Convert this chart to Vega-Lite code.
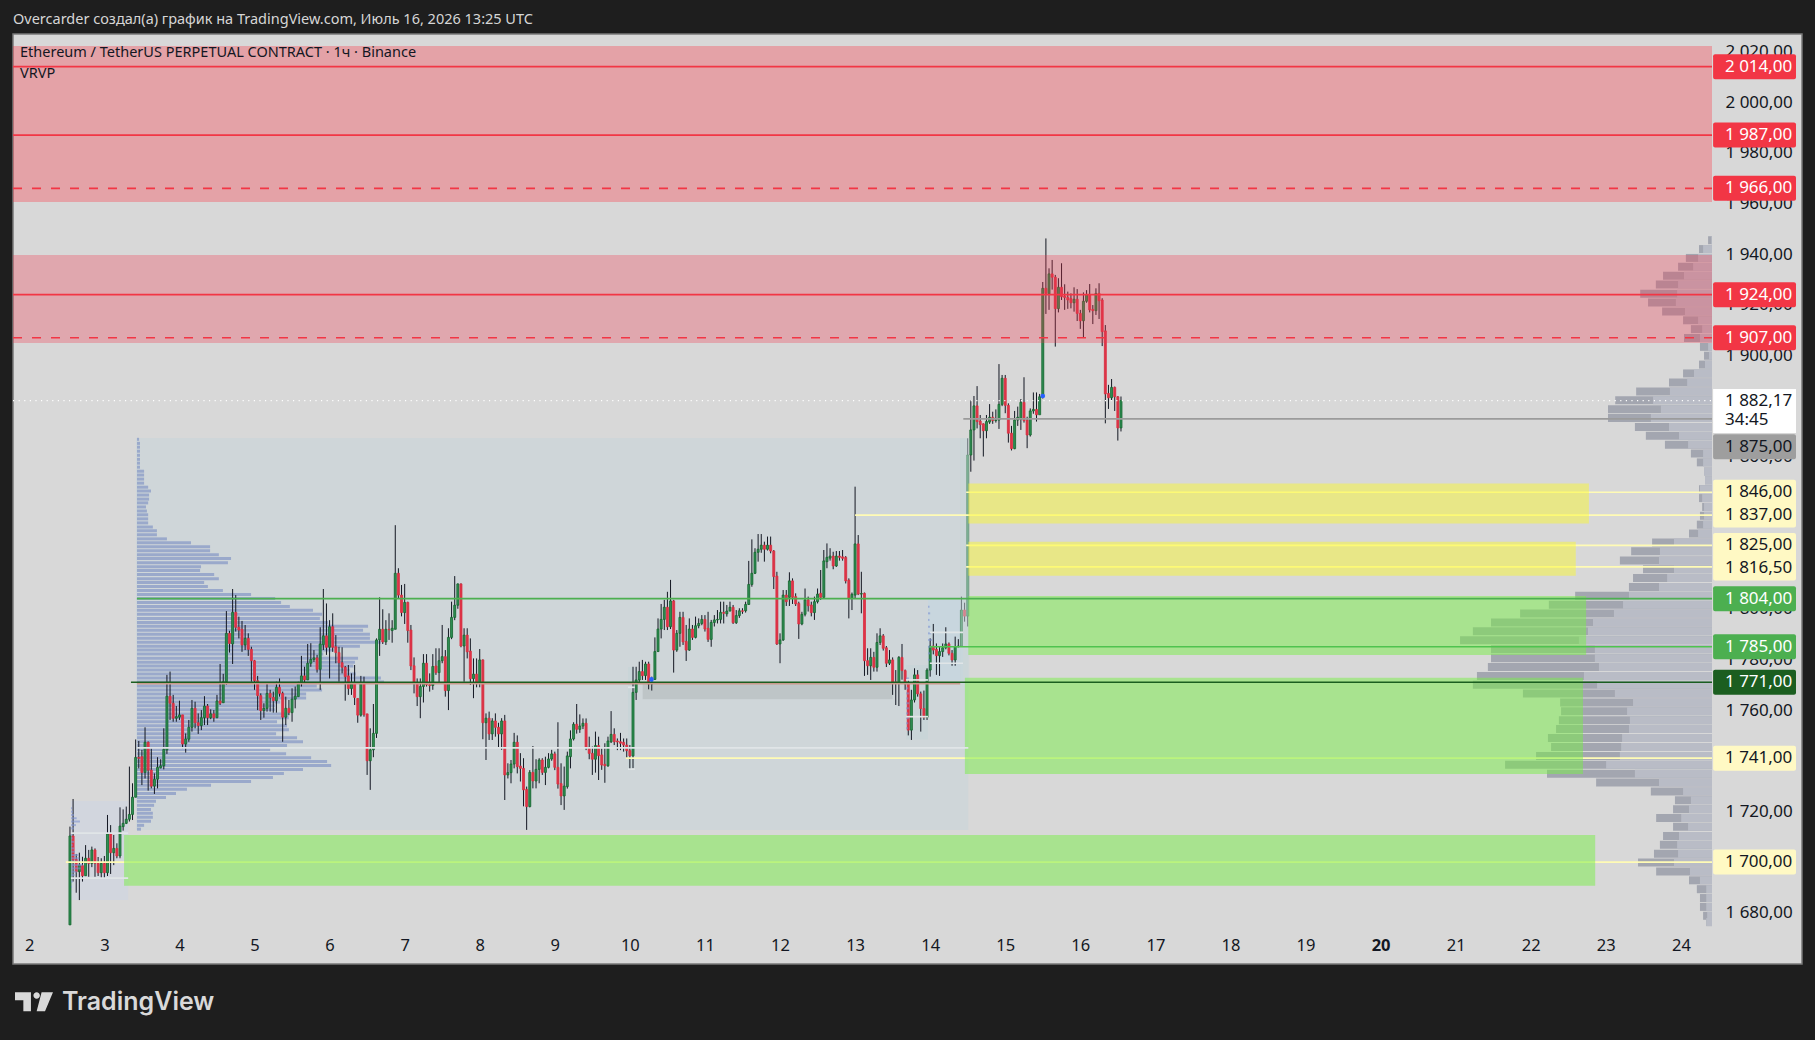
{"$schema":"https://vega.github.io/schema/vega-lite/v6.json","width":1789,"height":930,"autosize":"none","padding":{"left":13,"top":34,"right":13,"bottom":76},"background":"#1e1e1e","view":{"fill":"#d8d8d8","stroke":"#787878","strokeWidth":1.5},"title":{"text":"Overcarder создал(а) график на TradingView.com, Июль 16, 2026 13:25 UTC","anchor":"start","frame":"group","offset":7,"dx":0,"font":"Noto Sans","fontSize":14.5,"fontWeight":"normal","color":"#d6d6d6"},"resolve":{"scale":{"color":"independent"}},
"datasets":{
"regions":[{"a":58.1,"b":324.2,"top":1867.4,"bot":1712.7,"k":"A"},{"a":37.3,"b":55.6,"top":1724.1,"bot":1685,"k":"B"},{"a":304.3,"b":311.3,"top":1777.8,"bot":1748.4,"k":"C"},{"a":311.3,"b":322.5,"top":1803.5,"bot":1771.9,"k":"D"},{"a":215.4,"b":217.6,"top":1777,"bot":1736.7,"k":"C"}],
"overlays":[{"a":220.1,"b":300,"top":1770.6,"bot":1764.3,"k":"grey"},{"a":321.6,"b":324.5,"top":1867.4,"bot":1768,"k":"teal"}],
"mini":[{"y":1721.2,"s":37.33,"v":37.65},{"y":1719.9,"s":37.33,"v":37.97},{"y":1718.6,"s":37.33,"v":38.29},{"y":1717.3,"s":37.33,"v":39.14},{"y":1716,"s":37.33,"v":40.2},{"y":1714.6,"s":37.33,"v":38.93},{"y":1713.3,"s":37.33,"v":38.29},{"y":1710.7,"s":37.33,"v":37.65},{"y":1709.4,"s":37.33,"v":37.86},{"y":1708,"s":37.33,"v":38.29},{"y":1706.7,"s":37.33,"v":37.86},{"y":1705.4,"s":37.33,"v":38.29},{"y":1704.1,"s":37.33,"v":38.61},{"y":1702.8,"s":37.33,"v":39.67},{"y":1701.5,"s":37.33,"v":40},{"y":1700.2,"s":37.33,"v":40.2},{"y":1698.8,"s":37.33,"v":41.06},{"y":1697.5,"s":37.33,"v":40.42},{"y":1696.2,"s":37.33,"v":39.14},{"y":1694.9,"s":37.33,"v":38.5},{"y":1693.6,"s":37.33,"v":38.08},{"y":1692.3,"s":37.33,"v":37.86},{"y":1690.3,"s":37.33,"v":37.65},{"y":1688.3,"s":37.33,"v":37.44},{"y":1772.5,"s":304.3,"v":305.2},{"y":1770.6,"s":304.3,"v":305.3},{"y":1768.6,"s":304.3,"v":305},{"y":1766.6,"s":304.3,"v":305.3},{"y":1764.6,"s":304.3,"v":305},{"y":1762.7,"s":304.3,"v":305.3},{"y":1760.7,"s":304.3,"v":305.2},{"y":1758.7,"s":304.3,"v":305},{"y":1756.8,"s":304.3,"v":305.2},{"y":1754.8,"s":304.3,"v":305},{"y":1752.8,"s":304.3,"v":304.9},{"y":1800.8,"s":311.3,"v":311.8},{"y":1798.2,"s":311.3,"v":312},{"y":1795.6,"s":311.3,"v":311.8},{"y":1792.9,"s":311.3,"v":312},{"y":1790.3,"s":311.3,"v":312.3},{"y":1787.7,"s":311.3,"v":312.6},{"y":1785,"s":311.3,"v":312.3},{"y":1782.4,"s":311.3,"v":312},{"y":1779.8,"s":311.3,"v":311.8}],
"zones":[{"a":18.79,"b":561.95,"top":2022.2,"bot":1960.6,"k":"r1"},{"a":18.79,"b":561.95,"top":1939.7,"bot":1904.9,"k":"r2"},{"a":324.2,"b":522.6,"top":1849.5,"bot":1833.7,"k":"y"},{"a":324.2,"b":518.4,"top":1826.5,"bot":1813,"k":"y"},{"a":324.2,"b":521.7,"top":1805,"bot":1781.7,"k":"g"},{"a":323.1,"b":520.7,"top":1772.8,"bot":1734.8,"k":"g"},{"a":54.3,"b":524.6,"top":1710.7,"bot":1690.7,"k":"g"}],
"linesUnder":[{"y":1846,"a":323.5,"b":561.95},{"y":1837,"a":288,"b":561.95},{"y":1825,"a":323.5,"b":561.95},{"y":1816.5,"a":323.5,"b":561.95},{"y":1741,"a":214.7,"b":561.95},{"y":1700,"a":35.7,"b":561.95}],
"lines":[{"y":2014,"a":18.79,"b":561.95,"k":"sell"},{"y":1987,"a":18.79,"b":561.95,"k":"sell"},{"y":1924,"a":18.79,"b":561.95,"k":"sell"},{"y":1875,"a":322.6,"b":561.95,"k":"grey"},{"y":1745.1,"a":58.4,"b":324.2,"k":"white"},{"y":1711.4,"a":37.3,"b":55.6,"k":"white"},{"y":1693.7,"a":37.3,"b":55.6,"k":"white"},{"y":1790.7,"a":311.9,"b":322.5,"k":"white"},{"y":1778.5,"a":311.9,"b":322.5,"k":"white"},{"y":1771.9,"a":304.3,"b":311.3,"k":"white"},{"y":1757.4,"a":304.3,"b":311.3,"k":"white"},{"y":1769,"a":215.4,"b":217.6,"k":"white"},{"y":1736.7,"a":215.4,"b":217.6,"k":"white"},{"y":1770.4,"a":58.4,"b":321.6,"k":"rust"},{"y":1804,"a":58.4,"b":561.95,"k":"buy"},{"y":1785,"a":311.9,"b":561.95,"k":"buy2"},{"y":1771,"a":56.5,"b":561.95,"k":"dark"}],
"dashed":[{"y":1966,"a":18.79,"b":561.95},{"y":1907,"a":18.79,"b":561.95}],
"dotted":[{"y":1882.17,"a":18.79,"b":561.95}],
"dots":[{"t":348,"y":1884},{"t":222.9,"y":1772.1}],
"flags":[{"y":2014,"label":"2 014,00","k":"sell"},{"y":1987,"label":"1 987,00","k":"sell"},{"y":1966,"label":"1 966,00","k":"sell"},{"y":1924,"label":"1 924,00","k":"sell"},{"y":1907,"label":"1 907,00","k":"sell"},{"y":1864,"label":"1 875,00","k":"grey"},{"y":1846,"label":"1 846,00","k":"yel"},{"y":1837,"label":"1 837,00","k":"yel"},{"y":1825,"label":"1 825,00","k":"yel"},{"y":1816.1,"label":"1 816,50","k":"yel"},{"y":1804,"label":"1 804,00","k":"buy"},{"y":1785,"label":"1 785,00","k":"buy"},{"y":1771,"label":"1 771,00","k":"dark"},{"y":1741,"label":"1 741,00","k":"yel"},{"y":1700,"label":"1 700,00","k":"yel"}],
"clock":[{"y":1882.17,"label":"1 882,17"},{"y":1874.7,"label":"34:45"}],
"notes":[{"t":21.03,"y":2019.4,"label":"Ethereum / TetherUS PERPETUAL CONTRACT · 1ч · Binance"},{"t":21.03,"y":2011.1,"label":"VRVP"}],
"brand":[{"t":34.45,"y":1644.9,"label":"TradingView"}],
"lp":[{"y":1866.9,"v":59.1},{"y":1865.3,"v":59.4},{"y":1863.8,"v":59.4},{"y":1862.2,"v":59.4},{"y":1860.6,"v":59.4},{"y":1859,"v":59.4},{"y":1857.5,"v":59.4},{"y":1855.9,"v":59.4},{"y":1854.3,"v":60.7},{"y":1852.8,"v":60.7},{"y":1851.2,"v":60.7},{"y":1849.6,"v":60.7},{"y":1848,"v":62},{"y":1846.5,"v":62.9},{"y":1844.9,"v":62.3},{"y":1843.3,"v":62.3},{"y":1841.8,"v":62},{"y":1840.2,"v":61.3},{"y":1838.6,"v":61.6},{"y":1837.1,"v":62},{"y":1835.5,"v":62},{"y":1833.9,"v":62},{"y":1832.3,"v":63.5},{"y":1830.8,"v":64.8},{"y":1829.2,"v":64.8},{"y":1827.6,"v":68},{"y":1826.1,"v":75.7},{"y":1824.5,"v":81.8},{"y":1822.9,"v":81.8},{"y":1821.3,"v":84.6},{"y":1819.8,"v":88.5},{"y":1818.2,"v":87.5},{"y":1816.6,"v":78.9},{"y":1815.1,"v":78.6},{"y":1813.5,"v":83.1},{"y":1811.9,"v":84.6},{"y":1810.4,"v":79.9},{"y":1808.8,"v":81.1},{"y":1807.2,"v":85.9},{"y":1805.6,"v":94.9},{"y":1804.1,"v":102.6},{"y":1802.5,"v":104.5},{"y":1800.9,"v":107.3},{"y":1799.4,"v":114.7},{"y":1797.8,"v":117.6},{"y":1796.2,"v":116.9},{"y":1794.6,"v":119.5},{"y":1793.1,"v":132.3},{"y":1791.5,"v":130.7},{"y":1789.9,"v":132.9},{"y":1788.4,"v":132.9},{"y":1786.8,"v":136.4},{"y":1785.2,"v":129.7},{"y":1783.7,"v":121.2},{"y":1782.1,"v":118},{"y":1780.5,"v":129.1},{"y":1778.9,"v":128.1},{"y":1777.4,"v":127.6},{"y":1775.8,"v":126.5},{"y":1774.2,"v":128.4},{"y":1772.7,"v":136.4},{"y":1771.1,"v":137.4},{"y":1769.5,"v":115.9},{"y":1767.9,"v":117.6},{"y":1766.4,"v":112.5},{"y":1764.8,"v":112.5},{"y":1763.2,"v":104.2},{"y":1761.7,"v":102.6},{"y":1760.1,"v":102.6},{"y":1758.5,"v":107},{"y":1757,"v":107},{"y":1755.4,"v":103.2},{"y":1753.8,"v":106.4},{"y":1752.2,"v":107},{"y":1750.7,"v":102.9},{"y":1749.1,"v":109.6},{"y":1747.5,"v":111.5},{"y":1746,"v":106.4},{"y":1744.4,"v":101},{"y":1742.8,"v":106.1},{"y":1741.2,"v":114.1},{"y":1739.7,"v":119.2},{"y":1738.1,"v":120.5},{"y":1736.5,"v":111.5},{"y":1735,"v":105.4},{"y":1733.4,"v":101.9},{"y":1731.8,"v":94.9},{"y":1730.3,"v":82.1},{"y":1728.7,"v":74.4},{"y":1727.1,"v":70.9},{"y":1725.5,"v":67.7},{"y":1724,"v":64.5},{"y":1722.4,"v":63.9},{"y":1720.8,"v":62.9},{"y":1719.3,"v":63.5},{"y":1717.7,"v":63.5},{"y":1716.1,"v":62.9},{"y":1714.5,"v":60.7},{"y":1713,"v":59.7}],
"rp":[{"y":1945.5,"t":560.7,"i":561.7},{"y":1942,"t":557.8,"i":559.1},{"y":1938.5,"t":553.6,"i":557.5},{"y":1935,"t":551.1,"i":555.9},{"y":1931.5,"t":546.3,"i":553},{"y":1928,"t":544,"i":551.1},{"y":1924.4,"t":539,"i":550.8},{"y":1920.9,"t":541.5,"i":550.4},{"y":1917.4,"t":546,"i":553.3},{"y":1913.9,"t":552.7,"i":557.5},{"y":1910.4,"t":555.2,"i":558.8},{"y":1906.9,"t":553,"i":558.1},{"y":1903.4,"t":558.1,"i":560.7},{"y":1899.9,"t":559.4,"i":561},{"y":1896.4,"t":557.8,"i":559.7},{"y":1892.9,"t":552.7,"i":556.2},{"y":1889.3,"t":548.2,"i":554},{"y":1885.8,"t":537.7,"i":548.5},{"y":1882.3,"t":531,"i":543.1},{"y":1878.8,"t":528.7,"i":545.6},{"y":1875.3,"t":528.7,"i":542.4},{"y":1871.8,"t":537.3,"i":548.2},{"y":1868.3,"t":540.8,"i":551.4},{"y":1864.8,"t":546.9,"i":554.3},{"y":1861.3,"t":555.2,"i":559.1},{"y":1857.8,"t":557.1,"i":559.1},{"y":1854.2,"t":559.4,"i":559.4},{"y":1850.7,"t":559.7,"i":559.7},{"y":1847.2,"t":557.8,"i":558.1},{"y":1843.7,"t":557.8,"i":558.8},{"y":1840.2,"t":558.8,"i":559.4},{"y":1836.7,"t":558.1,"i":559.4},{"y":1833.2,"t":557.1,"i":559.1},{"y":1829.7,"t":554.6,"i":557.5},{"y":1826.2,"t":542.8,"i":549.8},{"y":1822.7,"t":536.1,"i":545.3},{"y":1819.1,"t":532.5,"i":545},{"y":1815.6,"t":539.9,"i":549.8},{"y":1812.1,"t":536.7,"i":547.6},{"y":1808.6,"t":535.4,"i":545},{"y":1805.1,"t":518.2,"i":535.4},{"y":1801.6,"t":509.8,"i":533.5},{"y":1798.1,"t":500.6,"i":530.6},{"y":1794.6,"t":491.3,"i":523.9},{"y":1791.1,"t":485.5,"i":522.3},{"y":1787.6,"t":481.4,"i":519.4},{"y":1784,"t":491.3,"i":524.5},{"y":1780.5,"t":491.3,"i":524.5},{"y":1777,"t":490.3,"i":525.8},{"y":1773.5,"t":486.8,"i":521},{"y":1770,"t":485.5,"i":525.2},{"y":1766.5,"t":501.5,"i":530.9},{"y":1763,"t":513.4,"i":536.7},{"y":1759.5,"t":513.7,"i":534.8},{"y":1756,"t":513,"i":535.7},{"y":1752.5,"t":512.1,"i":535.4},{"y":1749,"t":509.5,"i":533.2},{"y":1745.4,"t":510.5,"i":532.9},{"y":1741.9,"t":505.7,"i":532.5},{"y":1738.4,"t":495.8,"i":528.1},{"y":1734.9,"t":509.2,"i":537.3},{"y":1731.4,"t":524.9,"i":545},{"y":1727.9,"t":542.4,"i":552.7},{"y":1724.4,"t":550.1,"i":555.2},{"y":1720.9,"t":549.5,"i":554.6},{"y":1717.4,"t":544.1,"i":552.1},{"y":1713.9,"t":549.5,"i":554.3},{"y":1710.3,"t":546.3,"i":551.4},{"y":1706.8,"t":545.3,"i":550.8},{"y":1703.3,"t":543.4,"i":551.1},{"y":1699.8,"t":538.3,"i":549.8},{"y":1696.3,"t":544.1,"i":554.9},{"y":1692.8,"t":554.6,"i":558.1},{"y":1689.3,"t":557.1,"i":560.1},{"y":1685.8,"t":558.1,"i":560.1},{"y":1682.3,"t":558.1,"i":560.1},{"y":1678.8,"t":559.1,"i":560.4},{"y":1676.3,"t":560.1,"i":560.1}],
"candles":[{"t":37,"o":1675.2,"h":1714,"l":1675.2,"c":1710.3},{"t":38,"o":1710.3,"h":1724.9,"l":1692.3,"c":1700.8},{"t":39,"o":1701.1,"h":1703.2,"l":1687.9,"c":1696.2},{"t":40,"o":1696.2,"h":1703.7,"l":1685,"c":1698.8},{"t":41,"o":1698.6,"h":1702.1,"l":1692.3,"c":1694.6},{"t":42,"o":1694.6,"h":1706.7,"l":1694.6,"c":1701.5},{"t":43,"o":1701.5,"h":1704.8,"l":1694.2,"c":1699.5},{"t":44,"o":1699.5,"h":1706.1,"l":1698,"c":1704.8},{"t":45,"o":1704.8,"h":1705.4,"l":1694.2,"c":1699.5},{"t":46,"o":1699.5,"h":1702,"l":1694.5,"c":1695.8},{"t":47,"o":1695.8,"h":1701.5,"l":1693.6,"c":1699.5},{"t":48,"o":1699.5,"h":1702.4,"l":1693.6,"c":1695.8},{"t":49,"o":1695.8,"h":1718.6,"l":1694.5,"c":1711.1},{"t":50,"o":1711.1,"h":1714.6,"l":1695.3,"c":1703.7},{"t":51,"o":1703.7,"h":1710.7,"l":1698.8,"c":1705.4},{"t":52,"o":1705.4,"h":1707.4,"l":1701.5,"c":1702.4},{"t":53,"o":1702.4,"h":1721.6,"l":1701.5,"c":1714.2},{"t":54,"o":1714,"h":1720.8,"l":1712.4,"c":1715.3},{"t":55,"o":1715.3,"h":1721.9,"l":1715,"c":1716.9},{"t":56,"o":1716.9,"h":1737.7,"l":1716,"c":1718.8},{"t":57,"o":1718.8,"h":1731.1,"l":1716.6,"c":1725.6},{"t":58,"o":1725.6,"h":1748.4,"l":1725.6,"c":1741.3},{"t":59,"o":1741.3,"h":1747.8,"l":1737,"c":1741},{"t":60,"o":1741.6,"h":1744.3,"l":1730.4,"c":1735.4},{"t":61,"o":1735.4,"h":1753.2,"l":1733,"c":1747.3},{"t":62,"o":1747.3,"h":1747.6,"l":1728.2,"c":1736.3},{"t":63,"o":1736.3,"h":1744.9,"l":1729.1,"c":1730},{"t":64,"o":1730,"h":1735,"l":1726.9,"c":1732.7},{"t":65,"o":1732.7,"h":1741.4,"l":1729.1,"c":1737.4},{"t":66,"o":1737.2,"h":1740.6,"l":1737,"c":1738},{"t":67,"o":1738,"h":1752.8,"l":1736.6,"c":1744.5},{"t":68,"o":1744.3,"h":1773.9,"l":1742.7,"c":1765.5},{"t":69,"o":1765.5,"h":1775.2,"l":1756.1,"c":1762.7},{"t":70,"o":1762.7,"h":1766,"l":1755.4,"c":1756.8},{"t":71,"o":1756.8,"h":1761.6,"l":1755.4,"c":1757.4},{"t":72,"o":1757.2,"h":1763.7,"l":1756.1,"c":1758.1},{"t":73,"o":1758.1,"h":1758.1,"l":1744.9,"c":1746.6},{"t":74,"o":1746.6,"h":1750.8,"l":1743.2,"c":1748.6},{"t":75,"o":1748.5,"h":1756.1,"l":1747.5,"c":1753.2},{"t":76,"o":1753.2,"h":1764,"l":1751.5,"c":1760.7},{"t":77,"o":1760.7,"h":1763.3,"l":1752.8,"c":1755},{"t":78,"o":1755,"h":1758.7,"l":1750.6,"c":1753.9},{"t":79,"o":1753.9,"h":1760,"l":1752.1,"c":1757},{"t":80,"o":1757,"h":1765.5,"l":1754.1,"c":1761.6},{"t":81,"o":1761.6,"h":1762.4,"l":1754.1,"c":1757},{"t":82,"o":1757,"h":1760.3,"l":1756.4,"c":1758.5},{"t":83,"o":1758.5,"h":1760,"l":1755.4,"c":1757},{"t":84,"o":1757,"h":1766,"l":1756.8,"c":1763.6},{"t":85,"o":1763.6,"h":1778.2,"l":1762,"c":1762.7},{"t":86,"o":1762.9,"h":1774.3,"l":1762.9,"c":1771.2},{"t":87,"o":1771.2,"h":1799.1,"l":1770,"c":1790.3},{"t":88,"o":1790.3,"h":1791.3,"l":1782.7,"c":1786.3},{"t":89,"o":1786.1,"h":1807.8,"l":1778.2,"c":1798.6},{"t":90,"o":1798.6,"h":1805.4,"l":1791,"c":1792.7},{"t":91,"o":1792.7,"h":1796.9,"l":1788.3,"c":1791.6},{"t":92,"o":1791.9,"h":1795.2,"l":1783,"c":1785.7},{"t":93,"o":1785.7,"h":1793.6,"l":1783.7,"c":1788.3},{"t":94,"o":1788.3,"h":1790.3,"l":1781.4,"c":1784},{"t":95,"o":1784,"h":1785,"l":1771.2,"c":1779.5},{"t":96,"o":1779.5,"h":1779.8,"l":1768,"c":1771.6},{"t":97,"o":1771.6,"h":1773.5,"l":1760,"c":1765.7},{"t":98,"o":1765.7,"h":1766.6,"l":1756.1,"c":1759.8},{"t":99,"o":1759.8,"h":1762.7,"l":1757,"c":1760.7},{"t":100,"o":1760.7,"h":1770.6,"l":1759.4,"c":1766.6},{"t":101,"o":1766.6,"h":1768,"l":1759.4,"c":1765},{"t":102,"o":1765,"h":1767.3,"l":1759,"c":1763.7},{"t":103,"o":1763.7,"h":1771.2,"l":1759,"c":1769},{"t":104,"o":1769,"h":1772.5,"l":1765.3,"c":1766.6},{"t":105,"o":1766.6,"h":1767.3,"l":1747.5,"c":1757.2},{"t":106,"o":1757.2,"h":1765.3,"l":1754.1,"c":1760.7},{"t":107,"o":1760.7,"h":1764,"l":1758,"c":1759},{"t":108,"o":1759,"h":1768.6,"l":1755.4,"c":1764.3},{"t":109,"o":1764.3,"h":1769.3,"l":1760.7,"c":1765.5},{"t":110,"o":1765.3,"h":1771.2,"l":1765.3,"c":1770.5},{"t":111,"o":1770.5,"h":1781.4,"l":1769.3,"c":1773.5},{"t":112,"o":1773.5,"h":1777.1,"l":1770.5,"c":1771.9},{"t":113,"o":1771.9,"h":1786.1,"l":1771.9,"c":1778.5},{"t":114,"o":1778.5,"h":1786.4,"l":1777.1,"c":1780},{"t":115,"o":1780,"h":1783.7,"l":1779,"c":1780.6},{"t":116,"o":1780.6,"h":1781.8,"l":1774.8,"c":1776.1},{"t":117,"o":1776.1,"h":1792.7,"l":1768,"c":1786.1},{"t":118,"o":1785.8,"h":1807.8,"l":1783.7,"c":1789.3},{"t":119,"o":1789.3,"h":1802.1,"l":1781.8,"c":1784.8},{"t":120,"o":1784.8,"h":1795.5,"l":1772.5,"c":1792.9},{"t":121,"o":1792.9,"h":1798.2,"l":1783,"c":1784.8},{"t":122,"o":1785,"h":1789.6,"l":1778.5,"c":1782.7},{"t":123,"o":1782.7,"h":1785,"l":1771.2,"c":1778.7},{"t":124,"o":1778.7,"h":1784.8,"l":1774.5,"c":1776.9},{"t":125,"o":1776.9,"h":1777.4,"l":1763.7,"c":1773.2},{"t":126,"o":1773.5,"h":1777.8,"l":1766,"c":1768.5},{"t":127,"o":1768.5,"h":1774.5,"l":1766,"c":1770.3},{"t":128,"o":1770.5,"h":1777.8,"l":1762,"c":1765},{"t":129,"o":1764.6,"h":1764.6,"l":1755,"c":1758},{"t":130,"o":1758,"h":1773.5,"l":1757.4,"c":1770.3},{"t":131,"o":1770.3,"h":1773.2,"l":1757.4,"c":1758.2},{"t":132,"o":1758.5,"h":1758.5,"l":1734.4,"c":1740},{"t":133,"o":1740,"h":1752.8,"l":1728.5,"c":1744.3},{"t":134,"o":1744.3,"h":1762.4,"l":1741.4,"c":1750.8},{"t":135,"o":1750.8,"h":1788.3,"l":1749,"c":1787.7},{"t":136,"o":1787.7,"h":1804.5,"l":1781.4,"c":1791.9},{"t":137,"o":1791.9,"h":1799.8,"l":1786.1,"c":1786.9},{"t":138,"o":1786.9,"h":1795.5,"l":1785.7,"c":1791.9},{"t":139,"o":1791.9,"h":1798.2,"l":1787.7,"c":1791.7},{"t":140,"o":1791.4,"h":1795.5,"l":1786.6,"c":1792.3},{"t":141,"o":1791.9,"h":1833,"l":1791.9,"c":1814},{"t":142,"o":1814,"h":1816,"l":1804,"c":1805.4},{"t":143,"o":1805.4,"h":1809.4,"l":1797,"c":1798.5},{"t":144,"o":1798.5,"h":1809.8,"l":1794,"c":1802.5},{"t":145,"o":1802.5,"h":1802.8,"l":1786.6,"c":1791.4},{"t":146,"o":1791.6,"h":1793.6,"l":1775.8,"c":1777.4},{"t":147,"o":1777.5,"h":1780.8,"l":1766.6,"c":1770.5},{"t":148,"o":1770.5,"h":1772.5,"l":1761.6,"c":1765.3},{"t":149,"o":1765.3,"h":1772.5,"l":1756.8,"c":1769.3},{"t":150,"o":1769.3,"h":1782.1,"l":1763,"c":1778.5},{"t":151,"o":1778.5,"h":1782.1,"l":1769.3,"c":1770},{"t":152,"o":1770,"h":1774.5,"l":1767.3,"c":1769.7},{"t":153,"o":1769.7,"h":1782.1,"l":1768,"c":1777.2},{"t":154,"o":1777.4,"h":1784.4,"l":1773.9,"c":1774.8},{"t":155,"o":1774.8,"h":1784.4,"l":1770.5,"c":1779.5},{"t":156,"o":1779.5,"h":1793.6,"l":1778.5,"c":1781.1},{"t":157,"o":1781.1,"h":1783.7,"l":1765.3,"c":1767.7},{"t":158,"o":1767.7,"h":1792.3,"l":1760,"c":1788.7},{"t":159,"o":1788.7,"h":1802.8,"l":1788,"c":1796.6},{"t":160,"o":1796.6,"h":1812.9,"l":1795.5,"c":1801.4},{"t":161,"o":1801.4,"h":1810,"l":1800,"c":1809.8},{"t":162,"o":1809.8,"h":1810,"l":1784.8,"c":1785.3},{"t":163,"o":1785.3,"h":1792.3,"l":1771.2,"c":1789.6},{"t":164,"o":1789.6,"h":1792.3,"l":1780.4,"c":1783},{"t":165,"o":1783.3,"h":1788.3,"l":1769.9,"c":1772.4},{"t":166,"o":1772.4,"h":1780.4,"l":1764.7,"c":1774.2},{"t":167,"o":1774.2,"h":1780.4,"l":1769,"c":1770.5},{"t":168,"o":1770.5,"h":1784.1,"l":1769,"c":1779.8},{"t":169,"o":1779.8,"h":1780,"l":1748.5,"c":1755},{"t":170,"o":1755,"h":1758.7,"l":1740.3,"c":1756.8},{"t":171,"o":1756.8,"h":1759.4,"l":1748.2,"c":1750.6},{"t":172,"o":1750.6,"h":1756.8,"l":1748.2,"c":1755.7},{"t":173,"o":1755.7,"h":1758.7,"l":1749.5,"c":1753.2},{"t":174,"o":1753.2,"h":1755,"l":1745.3,"c":1750.6},{"t":175,"o":1750.6,"h":1756.8,"l":1744.3,"c":1755.7},{"t":176,"o":1755.7,"h":1758.1,"l":1724.5,"c":1734.4},{"t":177,"o":1734.4,"h":1739,"l":1733,"c":1735.3},{"t":178,"o":1735.3,"h":1740.3,"l":1731.1,"c":1738.7},{"t":179,"o":1738.7,"h":1751,"l":1737,"c":1747.3},{"t":180,"o":1747.3,"h":1750,"l":1735,"c":1737.7},{"t":181,"o":1737.9,"h":1743,"l":1731.8,"c":1737},{"t":182,"o":1737,"h":1741,"l":1722,"c":1728.5},{"t":183,"o":1728.7,"h":1729.8,"l":1712.7,"c":1721.9},{"t":184,"o":1721.9,"h":1736.3,"l":1721.6,"c":1735.4},{"t":185,"o":1735.4,"h":1745.8,"l":1729.1,"c":1732},{"t":186,"o":1732,"h":1740.6,"l":1729.1,"c":1736.6},{"t":187,"o":1736.6,"h":1741,"l":1731.1,"c":1740.3},{"t":188,"o":1740.3,"h":1741,"l":1734.4,"c":1735.4},{"t":189,"o":1735.4,"h":1741.6,"l":1730.4,"c":1737.4},{"t":190,"o":1737.4,"h":1743,"l":1737,"c":1740.7},{"t":191,"o":1740.7,"h":1744.3,"l":1740,"c":1742.7},{"t":192,"o":1742.7,"h":1743.6,"l":1736.3,"c":1737.4},{"t":193,"o":1737.4,"h":1755.2,"l":1729,"c":1730.8},{"t":194,"o":1731,"h":1739,"l":1722.5,"c":1726.1},{"t":195,"o":1726.1,"h":1737.7,"l":1720.6,"c":1730},{"t":196,"o":1729.8,"h":1743.6,"l":1729,"c":1741.9},{"t":197,"o":1741.6,"h":1752,"l":1737,"c":1748.6},{"t":198,"o":1748.6,"h":1755.2,"l":1748,"c":1754.4},{"t":199,"o":1754.4,"h":1762.4,"l":1750.7,"c":1752.4},{"t":200,"o":1752.4,"h":1758.3,"l":1751,"c":1753.7},{"t":201,"o":1753.7,"h":1756.7,"l":1752.5,"c":1754.8},{"t":202,"o":1754.8,"h":1756.7,"l":1744.2,"c":1745.3},{"t":203,"o":1745.3,"h":1749.5,"l":1740.6,"c":1742.9},{"t":204,"o":1742.9,"h":1745.6,"l":1734.4,"c":1740.6},{"t":205,"o":1740.6,"h":1751.5,"l":1735.3,"c":1746},{"t":206,"o":1746,"h":1749.5,"l":1732.4,"c":1742},{"t":207,"o":1742.3,"h":1744.9,"l":1736.4,"c":1738.3},{"t":208,"o":1738.6,"h":1746.9,"l":1731.3,"c":1738},{"t":209,"o":1738,"h":1749.5,"l":1737.6,"c":1747.8},{"t":210,"o":1747.5,"h":1759.6,"l":1747,"c":1750.4},{"t":211,"o":1750.4,"h":1752.8,"l":1746.2,"c":1747.5},{"t":212,"o":1747.8,"h":1748.8,"l":1744.2,"c":1747.4},{"t":213,"o":1747.5,"h":1751,"l":1744.2,"c":1746.9},{"t":214,"o":1747.3,"h":1748.8,"l":1743.6,"c":1746.2},{"t":215,"o":1746.2,"h":1748.8,"l":1741,"c":1744},{"t":216,"o":1744,"h":1746.2,"l":1736.6,"c":1741.9},{"t":217,"o":1741.9,"h":1777.1,"l":1737,"c":1767},{"t":218,"o":1767,"h":1777.1,"l":1764,"c":1771.9},{"t":219,"o":1771.9,"h":1779.1,"l":1770.6,"c":1775.2},{"t":220,"o":1775.2,"h":1779.8,"l":1771.9,"c":1773.6},{"t":221,"o":1773.6,"h":1779.1,"l":1771.9,"c":1778.2},{"t":222,"o":1778.2,"h":1779.1,"l":1768.2,"c":1770.3},{"t":223,"o":1770.3,"h":1773.2,"l":1767.7,"c":1771.1},{"t":224,"o":1772.1,"h":1788.7,"l":1771.9,"c":1783.1},{"t":225,"o":1783.1,"h":1796.2,"l":1783.1,"c":1792},{"t":226,"o":1792,"h":1801.9,"l":1788.3,"c":1795.8},{"t":227,"o":1795.8,"h":1803.5,"l":1791.6,"c":1800.6},{"t":228,"o":1800.6,"h":1806.7,"l":1791.6,"c":1792.9},{"t":229,"o":1792.9,"h":1811.4,"l":1792,"c":1803.1},{"t":230,"o":1803.1,"h":1803.5,"l":1774.8,"c":1783.7},{"t":231,"o":1783.7,"h":1791.6,"l":1783,"c":1790.3},{"t":232,"o":1790.3,"h":1798.8,"l":1785,"c":1796.6},{"t":233,"o":1796.6,"h":1798.8,"l":1785.7,"c":1786.9},{"t":234,"o":1787.1,"h":1793.6,"l":1779.4,"c":1783.7},{"t":235,"o":1783.7,"h":1796.2,"l":1783.4,"c":1792},{"t":236,"o":1792,"h":1793.6,"l":1787.7,"c":1788.7},{"t":237,"o":1788.7,"h":1796.9,"l":1788.3,"c":1793.3},{"t":238,"o":1793.3,"h":1796.2,"l":1792.3,"c":1794.2},{"t":239,"o":1794.2,"h":1797.5,"l":1793.5,"c":1795.8},{"t":240,"o":1795.8,"h":1797.5,"l":1791,"c":1792},{"t":241,"o":1792.3,"h":1798.8,"l":1786.9,"c":1787.9},{"t":242,"o":1787.9,"h":1795.6,"l":1785,"c":1794.6},{"t":243,"o":1794.6,"h":1797.5,"l":1793,"c":1795.6},{"t":244,"o":1795.6,"h":1799.5,"l":1794.2,"c":1795.8},{"t":245,"o":1795.8,"h":1802.8,"l":1794.2,"c":1798.6},{"t":246,"o":1798.6,"h":1802.8,"l":1794.2,"c":1798.2},{"t":247,"o":1798,"h":1801.5,"l":1796.9,"c":1799.1},{"t":248,"o":1799.1,"h":1802.8,"l":1799,"c":1800.6},{"t":249,"o":1800.6,"h":1801.5,"l":1794,"c":1794.5},{"t":250,"o":1794.5,"h":1799.5,"l":1794,"c":1797.3},{"t":251,"o":1797.3,"h":1800.2,"l":1796.4,"c":1799.2},{"t":252,"o":1799.2,"h":1800.2,"l":1798,"c":1799},{"t":253,"o":1799.2,"h":1802.8,"l":1798.5,"c":1801.7},{"t":254,"o":1801.7,"h":1818.9,"l":1801.5,"c":1809.6},{"t":255,"o":1809.6,"h":1827.4,"l":1808.7,"c":1814},{"t":256,"o":1814,"h":1823.9,"l":1813.7,"c":1822.3},{"t":257,"o":1822.3,"h":1829.5,"l":1818.6,"c":1823.5},{"t":258,"o":1823.5,"h":1829.5,"l":1822.1,"c":1825.1},{"t":259,"o":1825.1,"h":1826.5,"l":1818.6,"c":1823.5},{"t":260,"o":1823.5,"h":1828.5,"l":1823,"c":1825.1},{"t":261,"o":1825.1,"h":1828.5,"l":1821.9,"c":1822.8},{"t":262,"o":1822.8,"h":1823.2,"l":1807.8,"c":1812.7},{"t":263,"o":1812.9,"h":1814.6,"l":1785.7,"c":1786.1},{"t":264,"o":1786.1,"h":1790.3,"l":1778.5,"c":1787.7},{"t":265,"o":1787.7,"h":1807.4,"l":1787.3,"c":1805.4},{"t":266,"o":1805.4,"h":1807.4,"l":1801.1,"c":1802.8},{"t":267,"o":1804.5,"h":1814.4,"l":1801.1,"c":1811},{"t":268,"o":1811,"h":1812,"l":1801.9,"c":1804.5},{"t":269,"o":1804.8,"h":1806.1,"l":1801.1,"c":1801.9},{"t":270,"o":1802.1,"h":1802.8,"l":1788.1,"c":1794},{"t":271,"o":1794,"h":1798.8,"l":1793.5,"c":1797.8},{"t":272,"o":1797.8,"h":1808,"l":1797,"c":1803.5},{"t":273,"o":1803.5,"h":1804.8,"l":1798.9,"c":1801.2},{"t":274,"o":1801.5,"h":1802.8,"l":1797,"c":1798.5},{"t":275,"o":1798.5,"h":1804.8,"l":1795.6,"c":1802.8},{"t":276,"o":1802.8,"h":1808,"l":1802.1,"c":1805.8},{"t":277,"o":1806.1,"h":1815.3,"l":1803.5,"c":1804.5},{"t":278,"o":1804.5,"h":1823.2,"l":1804,"c":1818.9},{"t":279,"o":1818.6,"h":1825.8,"l":1816,"c":1820.3},{"t":280,"o":1820,"h":1823.9,"l":1819,"c":1820.8},{"t":281,"o":1820.8,"h":1822.5,"l":1815.6,"c":1816.9},{"t":282,"o":1816.9,"h":1822.8,"l":1816.5,"c":1820.8},{"t":283,"o":1820.8,"h":1822.8,"l":1819,"c":1820.3},{"t":284,"o":1820.5,"h":1823.2,"l":1819,"c":1819.9},{"t":285,"o":1820.3,"h":1820.8,"l":1810,"c":1811},{"t":286,"o":1811.3,"h":1812,"l":1796.2,"c":1804.1},{"t":287,"o":1804.1,"h":1806.4,"l":1799.5,"c":1805.7},{"t":288,"o":1805.4,"h":1848.2,"l":1804,"c":1825.6},{"t":289,"o":1825.6,"h":1829.1,"l":1805.4,"c":1805.8},{"t":290,"o":1805.8,"h":1814.6,"l":1798.2,"c":1806},{"t":291,"o":1806.1,"h":1806.4,"l":1773.5,"c":1779.5},{"t":292,"o":1779.5,"h":1784.4,"l":1773.9,"c":1777.5},{"t":293,"o":1777.5,"h":1784.4,"l":1771.9,"c":1780.8},{"t":294,"o":1780.8,"h":1783,"l":1775.2,"c":1776.9},{"t":295,"o":1776.9,"h":1790.3,"l":1775.2,"c":1786.7},{"t":296,"o":1786.7,"h":1792.3,"l":1785.7,"c":1789.3},{"t":297,"o":1789.3,"h":1790,"l":1783.5,"c":1784.4},{"t":298,"o":1784.6,"h":1785.3,"l":1777,"c":1778.5},{"t":299,"o":1778.5,"h":1783.7,"l":1777.8,"c":1779.8},{"t":300,"o":1779.8,"h":1780.8,"l":1766,"c":1771.1},{"t":301,"o":1771.1,"h":1775.8,"l":1762,"c":1770.9},{"t":302,"o":1770.9,"h":1781.3,"l":1761.6,"c":1780.8},{"t":303,"o":1780.8,"h":1786.1,"l":1772,"c":1775.6},{"t":304,"o":1775.6,"h":1776,"l":1768,"c":1770.3},{"t":305,"o":1770.3,"h":1772,"l":1750,"c":1752.1},{"t":306,"o":1752.1,"h":1768,"l":1748.2,"c":1764},{"t":307,"o":1764,"h":1776.5,"l":1763,"c":1773.9},{"t":308,"o":1773.9,"h":1775.8,"l":1765.3,"c":1766.4},{"t":309,"o":1766.4,"h":1767.3,"l":1751.5,"c":1760.6},{"t":310,"o":1760.6,"h":1767.7,"l":1756.1,"c":1757.1},{"t":311,"o":1757.1,"h":1776.5,"l":1756.1,"c":1775.8},{"t":312,"o":1775.8,"h":1788.3,"l":1773.2,"c":1785.3},{"t":313,"o":1785.3,"h":1794,"l":1782,"c":1783.7},{"t":314,"o":1784,"h":1786.3,"l":1773.9,"c":1781.5},{"t":315,"o":1781.5,"h":1785,"l":1773.5,"c":1783.1},{"t":316,"o":1783.1,"h":1786.3,"l":1781,"c":1784.6},{"t":317,"o":1784.6,"h":1792.7,"l":1784,"c":1786.1},{"t":318,"o":1786.1,"h":1786.7,"l":1781.6,"c":1782.4},{"t":319,"o":1782.4,"h":1783.7,"l":1777.5,"c":1779.8},{"t":320,"o":1779.8,"h":1789,"l":1777.5,"c":1785},{"t":321,"o":1785,"h":1788,"l":1784.8,"c":1785.3},{"t":322,"o":1785.3,"h":1804.8,"l":1785,"c":1799.5},{"t":323,"o":1799.5,"h":1802.4,"l":1794.9,"c":1797.1},{"t":324,"o":1797.1,"h":1867.3,"l":1793,"c":1860.7},{"t":325,"o":1860.7,"h":1882.4,"l":1854.1,"c":1870.6},{"t":326,"o":1870.6,"h":1884,"l":1858.5,"c":1880.1},{"t":327,"o":1880.1,"h":1887.9,"l":1871.2,"c":1873.9},{"t":328,"o":1874.1,"h":1876.5,"l":1867.3,"c":1872.7},{"t":329,"o":1873,"h":1873.2,"l":1860.1,"c":1870.3},{"t":330,"o":1870.3,"h":1876.5,"l":1867.3,"c":1873.9},{"t":331,"o":1873.7,"h":1880.8,"l":1873,"c":1875.6},{"t":332,"o":1875.6,"h":1877.8,"l":1873,"c":1874.3},{"t":333,"o":1874.3,"h":1878.7,"l":1873.5,"c":1874.5},{"t":334,"o":1874.5,"h":1896.6,"l":1871,"c":1880.7},{"t":335,"o":1880.7,"h":1892.3,"l":1880,"c":1891},{"t":336,"o":1891,"h":1892.3,"l":1877.2,"c":1880.3},{"t":337,"o":1880.3,"h":1881.1,"l":1865.6,"c":1869.3},{"t":338,"o":1869.3,"h":1872.2,"l":1862.5,"c":1863.2},{"t":339,"o":1863.2,"h":1878.1,"l":1863,"c":1874.5},{"t":340,"o":1874.5,"h":1879.8,"l":1872.2,"c":1875.6},{"t":341,"o":1874.8,"h":1882.8,"l":1870.6,"c":1881.5},{"t":342,"o":1881.5,"h":1891.4,"l":1873.5,"c":1874.3},{"t":343,"o":1874.5,"h":1875.8,"l":1863.4,"c":1868.6},{"t":344,"o":1868.6,"h":1879.1,"l":1868,"c":1878.1},{"t":345,"o":1878.1,"h":1885.4,"l":1877,"c":1878.7},{"t":346,"o":1878.7,"h":1885.4,"l":1873.9,"c":1876.6},{"t":347,"o":1876.6,"h":1884.8,"l":1878.5,"c":1883.7},{"t":348,"o":1883.7,"h":1929,"l":1883,"c":1926.5},{"t":349,"o":1926.5,"h":1946.2,"l":1916.4,"c":1924.5},{"t":350,"o":1924.3,"h":1934.4,"l":1918,"c":1932.2},{"t":351,"o":1932.2,"h":1937.7,"l":1926,"c":1930.9},{"t":352,"o":1930.9,"h":1931.8,"l":1903.5,"c":1918.5},{"t":353,"o":1918.5,"h":1930.5,"l":1917,"c":1926.9},{"t":354,"o":1926.9,"h":1936.4,"l":1921.9,"c":1923.2},{"t":355,"o":1923.5,"h":1928.1,"l":1918,"c":1922.9},{"t":356,"o":1922.9,"h":1925.2,"l":1918.4,"c":1921.9},{"t":357,"o":1922.5,"h":1924.5,"l":1918.6,"c":1920.8},{"t":358,"o":1920.8,"h":1926.9,"l":1917.3,"c":1922.2},{"t":359,"o":1922.2,"h":1926.2,"l":1913.6,"c":1916.6},{"t":360,"o":1916.6,"h":1918,"l":1910.5,"c":1913.7},{"t":361,"o":1913.7,"h":1924.9,"l":1906.9,"c":1921.4},{"t":362,"o":1921.4,"h":1925.8,"l":1920.8,"c":1923.9},{"t":363,"o":1923.9,"h":1928.2,"l":1917,"c":1918},{"t":364,"o":1918.2,"h":1919.9,"l":1912.4,"c":1917.7},{"t":365,"o":1917.7,"h":1926.5,"l":1916,"c":1924.5},{"t":366,"o":1924.5,"h":1928.5,"l":1914.4,"c":1921.6},{"t":367,"o":1921.9,"h":1922.6,"l":1903.7,"c":1909.4},{"t":368,"o":1909.7,"h":1912,"l":1873.2,"c":1884.8},{"t":369,"o":1885,"h":1888.4,"l":1878.9,"c":1883.3},{"t":370,"o":1883.3,"h":1890.7,"l":1882.4,"c":1887.4},{"t":371,"o":1887.4,"h":1887.7,"l":1878.1,"c":1883.7},{"t":372,"o":1883.7,"h":1884,"l":1866.4,"c":1871.4},{"t":373,"o":1871.4,"h":1883.8,"l":1870,"c":1882.2}]
},
"layer":[
{"data":{"name":"regions"},"mark":{"type":"rect"},"encoding":{"x":{"field":"a","type":"quantitative","scale":{"domain":[18.79,590.72],"nice":false,"zero":false,"padding":0},"axis":{"title":null,"orient":"bottom","offset":-19,"values":[24,48,72,96,120,144,168,192,216,240,264,288,312,336,360,384,408,432,456,480,504,528,552],"labelExpr":"format(datum.value/24+1,'d')","labelFont":"Noto Sans","labelFontSize":16.5,"labelColor":"#131722","labelPadding":0,"labelBaseline":"middle","labelAngle":0,"tickSize":0,"domain":false,"grid":false,"labelOverlap":false,"labelFlush":false,"labelBound":false,"labelFontWeight":{"condition":{"test":"datum.value==456","value":"bold"},"value":"normal"}}},"x2":{"field":"b"},"y":{"field":"top","type":"quantitative","scale":{"domain":[1659.76,2026.91],"nice":false,"zero":false,"padding":0},"axis":{"title":null,"orient":"right","offset":-77,"values":[1680,1700,1720,1740,1760,1780,1800,1820,1840,1860,1880,1900,1920,1940,1960,1980,2000,2020],"labelExpr":"format(floor(datum.value/1000),'d')+' '+slice(format(datum.value,'d'),1)+',00'","labelFont":"Noto Sans","labelFontSize":17,"labelColor":"#131722","labelPadding":0,"labelAlign":"left","labelBaseline":"middle","tickSize":0,"domain":false,"grid":false,"labelOverlap":false,"labelFlush":false,"labelBound":false}},"y2":{"field":"bot"},"color":{"field":"k","type":"nominal","legend":null,"scale":{"domain":["A","B","C","D"],"range":["#cfd6d9","#d2d6de","#c9d5d8","#c8d6de"]}}}},
{"data":{"name":"rp"},"mark":{"type":"bar","orient":"horizontal","size":8,"color":"#a3a6b0"},"encoding":{"x":{"field":"t","type":"quantitative","scale":{"domain":[18.79,590.72],"nice":false,"zero":false,"padding":0},"axis":{"title":null}},"x2":{"datum":561.95},"y":{"field":"y","type":"quantitative","scale":{"domain":[1659.76,2026.91],"nice":false,"zero":false,"padding":0},"axis":{"title":null}}}},
{"data":{"name":"rp"},"mark":{"type":"bar","orient":"horizontal","size":8,"color":"#b9bcc6"},"encoding":{"x":{"field":"i","type":"quantitative","scale":{"domain":[18.79,590.72],"nice":false,"zero":false,"padding":0},"axis":{"title":null}},"x2":{"datum":561.95},"y":{"field":"y","type":"quantitative","scale":{"domain":[1659.76,2026.91],"nice":false,"zero":false,"padding":0},"axis":{"title":null}}}},
{"data":{"name":"lp"},"mark":{"type":"bar","orient":"horizontal","size":3,"color":"#9aa9cb"},"encoding":{"x":{"field":"v","type":"quantitative","scale":{"domain":[18.79,590.72],"nice":false,"zero":false,"padding":0},"axis":{"title":null}},"x2":{"datum":58.43},"y":{"field":"y","type":"quantitative","scale":{"domain":[1659.76,2026.91],"nice":false,"zero":false,"padding":0},"axis":{"title":null}}}},
{"data":{"name":"candles"},"mark":{"type":"rule","color":"#131722","strokeWidth":1},"encoding":{"x":{"field":"t","type":"quantitative","scale":{"domain":[18.79,590.72],"nice":false,"zero":false,"padding":0},"axis":{"title":null}},"y":{"field":"l","type":"quantitative","scale":{"domain":[1659.76,2026.91],"nice":false,"zero":false,"padding":0},"axis":{"title":null}},"y2":{"field":"h"}}},
{"data":{"name":"candles"},"mark":{"type":"bar","orient":"vertical","size":2,"strokeWidth":0.8},"encoding":{"x":{"field":"t","type":"quantitative","scale":{"domain":[18.79,590.72],"nice":false,"zero":false,"padding":0},"axis":{"title":null}},"y":{"field":"o","type":"quantitative","scale":{"domain":[1659.76,2026.91],"nice":false,"zero":false,"padding":0},"axis":{"title":null}},"y2":{"field":"c"},"color":{"condition":{"test":"datum.c>=datum.o","value":"#2f8f55"},"value":"#e0334a"},"stroke":{"condition":{"test":"datum.c>=datum.o","value":"#14662c"},"value":"#d9303f"}}},
{"data":{"name":"mini"},"mark":{"type":"bar","orient":"horizontal","size":2,"color":"#7f93d0","opacity":0.6},"encoding":{"x":{"field":"v","type":"quantitative","scale":{"domain":[18.79,590.72],"nice":false,"zero":false,"padding":0},"axis":{"title":null}},"x2":{"field":"s"},"y":{"field":"y","type":"quantitative","scale":{"domain":[1659.76,2026.91],"nice":false,"zero":false,"padding":0},"axis":{"title":null}}}},
{"data":{"name":"overlays"},"mark":{"type":"rect"},"encoding":{"x":{"field":"a","type":"quantitative","scale":{"domain":[18.79,590.72],"nice":false,"zero":false,"padding":0},"axis":{"title":null}},"x2":{"field":"b"},"y":{"field":"top","type":"quantitative","scale":{"domain":[1659.76,2026.91],"nice":false,"zero":false,"padding":0},"axis":{"title":null}},"y2":{"field":"bot"},"color":{"field":"k","type":"nominal","legend":null,"scale":{"domain":["grey","teal"],"range":["rgba(70,70,70,0.12)","rgba(200,214,216,0.5)"]}}}},
{"data":{"name":"linesUnder"},"mark":{"type":"rule","color":"#fffbb5","strokeWidth":1.7},"encoding":{"x":{"field":"a","type":"quantitative","scale":{"domain":[18.79,590.72],"nice":false,"zero":false,"padding":0},"axis":{"title":null}},"x2":{"field":"b"},"y":{"field":"y","type":"quantitative","scale":{"domain":[1659.76,2026.91],"nice":false,"zero":false,"padding":0},"axis":{"title":null}}}},
{"data":{"name":"zones"},"mark":{"type":"rect"},"encoding":{"x":{"field":"a","type":"quantitative","scale":{"domain":[18.79,590.72],"nice":false,"zero":false,"padding":0},"axis":{"title":null}},"x2":{"field":"b"},"y":{"field":"top","type":"quantitative","scale":{"domain":[1659.76,2026.91],"nice":false,"zero":false,"padding":0},"axis":{"title":null}},"y2":{"field":"bot"},"color":{"field":"k","type":"nominal","legend":null,"scale":{"domain":["r1","r2","y","g"],"range":["rgba(252,52,68,0.33)","rgba(243,52,76,0.3)","rgba(250,248,44,0.47)","rgba(120,238,70,0.5)"]}}}},
{"data":{"name":"lines"},"mark":{"type":"rule","strokeWidth":1.7},"encoding":{"x":{"field":"a","type":"quantitative","scale":{"domain":[18.79,590.72],"nice":false,"zero":false,"padding":0},"axis":{"title":null}},"x2":{"field":"b"},"y":{"field":"y","type":"quantitative","scale":{"domain":[1659.76,2026.91],"nice":false,"zero":false,"padding":0},"axis":{"title":null}},"color":{"field":"k","type":"nominal","legend":null,"scale":{"domain":["sell","grey","white","rust","buy","buy2","dark"],"range":["#f23645","#9b9b9b","#e0e5e7","#c99a8c","#4caf50","#4fc34f","#1b5e20"]}}}},
{"data":{"name":"dashed"},"mark":{"type":"rule","color":"#f23645","strokeWidth":1.7,"strokeDash":[9,10]},"encoding":{"x":{"field":"a","type":"quantitative","scale":{"domain":[18.79,590.72],"nice":false,"zero":false,"padding":0},"axis":{"title":null}},"x2":{"field":"b"},"y":{"field":"y","type":"quantitative","scale":{"domain":[1659.76,2026.91],"nice":false,"zero":false,"padding":0},"axis":{"title":null}}}},
{"data":{"name":"dotted"},"mark":{"type":"rule","color":"#ffffff","strokeWidth":1.2,"strokeDash":[1.2,4.4]},"encoding":{"x":{"field":"a","type":"quantitative","scale":{"domain":[18.79,590.72],"nice":false,"zero":false,"padding":0},"axis":{"title":null}},"x2":{"field":"b"},"y":{"field":"y","type":"quantitative","scale":{"domain":[1659.76,2026.91],"nice":false,"zero":false,"padding":0},"axis":{"title":null}}}},
{"data":{"name":"dots"},"mark":{"type":"circle","color":"#2962ff","size":22,"opacity":1},"encoding":{"x":{"field":"t","type":"quantitative","scale":{"domain":[18.79,590.72],"nice":false,"zero":false,"padding":0},"axis":{"title":null}},"y":{"field":"y","type":"quantitative","scale":{"domain":[1659.76,2026.91],"nice":false,"zero":false,"padding":0},"axis":{"title":null}}}},
{"data":{"values":[{"y":1878.1}]},"mark":{"type":"bar","orient":"horizontal","size":44,"color":"#ffffff"},"encoding":{"x":{"datum":562.3,"type":"quantitative","scale":{"domain":[18.79,590.72],"nice":false,"zero":false,"padding":0},"axis":{"title":null}},"x2":{"datum":588.8},"y":{"field":"y","type":"quantitative","scale":{"domain":[1659.76,2026.91],"nice":false,"zero":false,"padding":0},"axis":{"title":null}}}},
{"data":{"name":"flags"},"mark":{"type":"bar","orient":"horizontal","size":25,"cornerRadius":2},"encoding":{"x":{"datum":562.3,"type":"quantitative","scale":{"domain":[18.79,590.72],"nice":false,"zero":false,"padding":0},"axis":{"title":null}},"x2":{"datum":588.8},"y":{"field":"y","type":"quantitative","scale":{"domain":[1659.76,2026.91],"nice":false,"zero":false,"padding":0},"axis":{"title":null}},"color":{"field":"k","type":"nominal","legend":null,"scale":{"domain":["sell","grey","yel","buy","dark"],"range":["#f23645","#9e9e9e","#fff9c4","#4caf50","#1b5e20"]}}}},
{"data":{"name":"flags"},"mark":{"type":"text","align":"left","baseline":"middle","font":"Noto Sans","fontSize":17},"encoding":{"x":{"datum":566.1,"type":"quantitative","scale":{"domain":[18.79,590.72],"nice":false,"zero":false,"padding":0},"axis":{"title":null}},"y":{"field":"y","type":"quantitative","scale":{"domain":[1659.76,2026.91],"nice":false,"zero":false,"padding":0},"axis":{"title":null}},"text":{"field":"label"},"color":{"field":"k","type":"nominal","legend":null,"scale":{"domain":["sell","grey","yel","buy","dark"],"range":["#ffffff","#131722","#131722","#ffffff","#ffffff"]}}}},
{"data":{"name":"clock"},"mark":{"type":"text","align":"left","baseline":"middle","font":"Noto Sans","fontSize":17,"color":"#131722"},"encoding":{"x":{"datum":566.1,"type":"quantitative","scale":{"domain":[18.79,590.72],"nice":false,"zero":false,"padding":0},"axis":{"title":null}},"y":{"field":"y","type":"quantitative","scale":{"domain":[1659.76,2026.91],"nice":false,"zero":false,"padding":0},"axis":{"title":null}},"text":{"field":"label"}}},
{"data":{"name":"notes"},"mark":{"type":"text","align":"left","baseline":"middle","font":"Noto Sans","fontSize":14.5,"color":"#131722"},"encoding":{"x":{"field":"t","type":"quantitative","scale":{"domain":[18.79,590.72],"nice":false,"zero":false,"padding":0},"axis":{"title":null}},"y":{"field":"y","type":"quantitative","scale":{"domain":[1659.76,2026.91],"nice":false,"zero":false,"padding":0},"axis":{"title":null}},"text":{"field":"label"}}},
{"data":{"name":"brand"},"mark":{"type":"text","align":"left","baseline":"middle","font":"Inter","fontWeight":600,"fontSize":25,"color":"#d9d9d9"},"encoding":{"x":{"field":"t","type":"quantitative","scale":{"domain":[18.79,590.72],"nice":false,"zero":false,"padding":0},"axis":{"title":null}},"y":{"field":"y","type":"quantitative","scale":{"domain":[1659.76,2026.91],"nice":false,"zero":false,"padding":0},"axis":{"title":null}},"text":{"field":"label"}}},
{"data":{"values":[{"t":25.5,"y":1644.9}]},"mark":{"type":"point","filled":true,"opacity":1,"color":"#d9d9d9","size":1444,"shape":"M-1,-.49H-.16V.5H-.56V-.07H-1ZM-.03,-.32A.17,.17 0 1 1 .31,-.32A.17,.17 0 1 1 -.03,-.32ZM.4,-.49H1L.58,.5H.14Z"},"encoding":{"x":{"field":"t","type":"quantitative","scale":{"domain":[18.79,590.72],"nice":false,"zero":false,"padding":0},"axis":{"title":null}},"y":{"field":"y","type":"quantitative","scale":{"domain":[1659.76,2026.91],"nice":false,"zero":false,"padding":0},"axis":{"title":null}}}}
]}
